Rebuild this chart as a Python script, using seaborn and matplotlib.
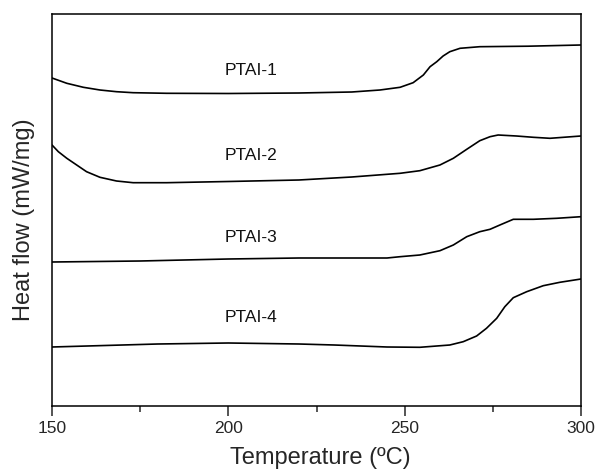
import pandas as pd
import numpy as np
import matplotlib
matplotlib.use("Agg")
import matplotlib.pyplot as plt
import seaborn as sns
from matplotlib.ticker import MultipleLocator

# DSC traces (heat flow in arbitrary, stacked units)
t_1 = [150, 154.2, 158.9, 163.6, 168.3, 173, 182.5, 200, 220, 235, 243, 248.7, 252.4, 255.3,
       257.2, 259.1, 260.9, 262.8, 265.7, 271.3, 285, 300]
hf_1 = [328, 322.7, 318.7, 316, 314.3, 313.3, 312.7, 312.5, 313, 314, 316, 318.7, 323.3, 331,
        339.3, 344.3, 350, 354.3, 357.7, 359.3, 359.8, 361]

t_2 = [150, 151.8, 154.2, 157, 159.8, 163.6, 168.3, 173, 182.5, 200, 220, 235, 248.7, 254.3,
       260, 263.8, 267.6, 271.3, 274.2, 276.5, 281.7, 286.5, 291.2, 300]
hf_2 = [261, 254.3, 247.7, 241, 234.3, 228.7, 225, 223.3, 223.3, 224.5, 226, 229, 232.7, 235.3,
        241, 247.7, 256.7, 265.3, 269.3, 271, 270, 268.7, 267.7, 270]

t_3 = [150, 175, 200, 220, 245, 248.7, 254.3, 260, 263.8, 267.6, 271.3, 274.2, 277, 280.8,
       286.5, 293.1, 300]
hf_3 = [144, 145, 147, 148, 148, 149.3, 151, 155.3, 161, 169.3, 174.3, 176.7, 181, 186.7,
        186.7, 187.7, 189.3]

t_4 = [150, 165, 180, 200, 220, 230, 245, 254.3, 262.8, 266.6, 270.4, 273.2, 276.1, 278.4,
       280.8, 284.6, 289.3, 294, 300]
hf_4 = [59, 60.5, 62, 63, 62, 61, 59, 58.7, 61, 64.3, 70, 77.7, 87.7, 99.3,
        108.3, 114.3, 120.3, 123.7, 127]

names = ["PTAI-1", "PTAI-2", "PTAI-3", "PTAI-4"]
label_y = [336, 251, 169, 88]
label_t = 206.5

frames = []
for name, t, hf in zip(names, [t_1, t_2, t_3, t_4], [hf_1, hf_2, hf_3, hf_4]):
    frames.append(pd.DataFrame({"Temperature": t, "Heat flow": hf, "sample": name}))
df = pd.concat(frames, ignore_index=True)

sns.set_style("ticks")
plt.rcParams['font.family'] = ['Liberation Sans', 'DejaVu Sans']

fig = plt.figure(figsize=(5.97, 4.70), dpi=100)
ax = fig.add_axes([52 / 597, 64 / 470, 529 / 597, 392 / 470])

sns.lineplot(data=df, x="Temperature", y="Heat flow", units="sample", estimator=None,
             color="black", linewidth=1.2, ax=ax)

for name, y in zip(names, label_y):
    ax.text(label_t, y, name, ha="center", va="center", fontsize=12.5, color="#111111")

ax.set_xlim(150, 300)
ax.set_ylim(0, 392)
ax.xaxis.set_major_locator(MultipleLocator(50))
ax.xaxis.set_minor_locator(MultipleLocator(25))
ax.set_yticks([])
ax.tick_params(axis="x", which="major", direction="out", length=7, width=1.1, labelsize=12.5, pad=4)
ax.tick_params(axis="x", which="minor", direction="out", length=4, width=1.1)
for s in ax.spines.values():
    s.set_linewidth(1.1)
    s.set_color("black")

ax.set_xlabel("Temperature (ºC)", fontsize=17)
ax.set_ylabel("Heat flow (mW/mg)", fontsize=17)
ax.xaxis.set_label_coords(0.507, -0.105)
ax.yaxis.set_label_coords(-0.032, 0.475)

fig.savefig("out.png", dpi=100)
